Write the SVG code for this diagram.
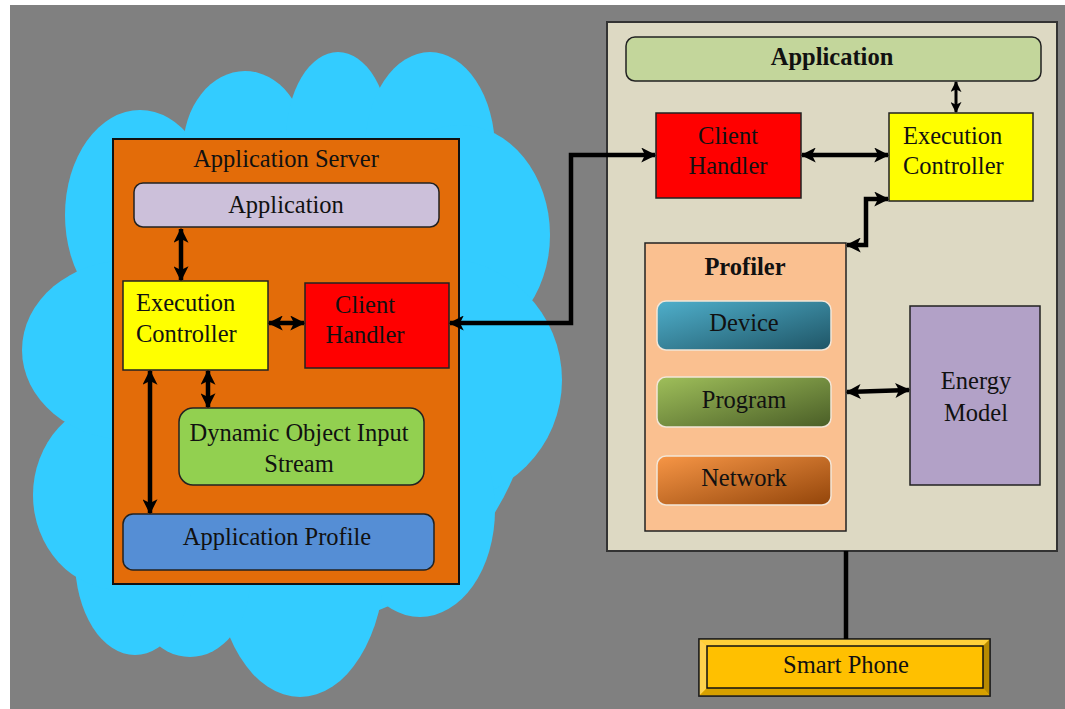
<svg xmlns="http://www.w3.org/2000/svg" width="1065" height="709" viewBox="0 0 1065 709">
<defs>
<style>
.t{font-family:"Liberation Serif","Times New Roman",serif;font-size:24.5px;fill:#111}
.b{font-weight:bold}
.m{text-anchor:middle}
.box{stroke:#222;stroke-width:1.5}
.cn{fill:none;stroke:#000;stroke-width:4.5;marker-start:url(#ah);marker-end:url(#ah)}
.cs{fill:none;stroke:#000;stroke-width:3;marker-start:url(#ahs);marker-end:url(#ahs)}
.btn{stroke:#f2e6d8;stroke-width:1.5}
</style>
<marker id="ah" viewBox="0 0 12 12" markerWidth="15" markerHeight="15" refX="11" refY="6" orient="auto-start-reverse" markerUnits="userSpaceOnUse">
<path d="M0,0 L12,6 L0,12 L3,6 z" fill="#000"/>
</marker>
<marker id="ahs" viewBox="0 0 12 12" markerWidth="11" markerHeight="11" refX="11" refY="6" orient="auto-start-reverse" markerUnits="userSpaceOnUse">
<path d="M0,0 L12,6 L0,12 L3,6 z" fill="#000"/>
</marker>
<linearGradient id="gDev" x1="0" y1="0" x2="1" y2="1">
<stop offset="0" stop-color="#4FAFCB"/><stop offset="1" stop-color="#1F5566"/>
</linearGradient>
<linearGradient id="gProg" x1="0" y1="0" x2="1" y2="1">
<stop offset="0" stop-color="#9FBF5A"/><stop offset="1" stop-color="#4A5E27"/>
</linearGradient>
<linearGradient id="gNet" x1="0" y1="0" x2="1" y2="1">
<stop offset="0" stop-color="#F79646"/><stop offset="1" stop-color="#93450A"/>
</linearGradient>
</defs>

<rect x="0" y="0" width="1065" height="709" fill="#ffffff"/>
<rect x="10" y="5" width="1055" height="704" fill="#808080"/>

<g id="cloud" fill="#33CCFF">
<ellipse cx="300" cy="370" rx="235" ry="255"/>
<ellipse cx="140" cy="215" rx="75" ry="105"/>
<ellipse cx="245" cy="150" rx="62" ry="79"/>
<ellipse cx="338" cy="140" rx="52" ry="88"/>
<ellipse cx="430" cy="150" rx="65" ry="98"/>
<ellipse cx="460" cy="235" rx="90" ry="110"/>
<ellipse cx="440" cy="380" rx="122" ry="122"/>
<ellipse cx="420" cy="510" rx="75" ry="107"/>
<ellipse cx="300" cy="560" rx="85" ry="137"/>
<ellipse cx="190" cy="580" rx="60" ry="77"/>
<ellipse cx="135" cy="560" rx="60" ry="95"/>
<ellipse cx="120" cy="495" rx="87" ry="95"/>
<ellipse cx="130" cy="350" rx="108" ry="90"/>
</g>

<g id="app-server">
<rect x="113" y="139" width="346" height="445" fill="#E36C09" stroke="#111" stroke-width="2"/>
<text class="t m" x="286" y="167">Application Server</text>
</g>
<g id="l-application">
<rect class="box" x="134" y="183" width="305" height="44" rx="9" fill="#CCC0DA"/>
<text class="t m" x="286" y="213">Application</text>
</g>
<g id="l-exec">
<rect class="box" x="123" y="281" width="145" height="89" fill="#FFFF00"/>
<text class="t" x="136" y="311">Execution</text>
<text class="t" x="136" y="342">Controller</text>
</g>
<g id="l-client">
<rect class="box" x="305" y="283" width="144" height="85" fill="#FF0000"/>
<text class="t m" x="365" y="313">Client</text>
<text class="t m" x="365" y="343">Handler</text>
</g>
<g id="l-dois">
<rect class="box" x="179" y="408" width="245" height="77" rx="14" fill="#92D050"/>
<text class="t m" x="299" y="441">Dynamic Object Input</text>
<text class="t m" x="299" y="472">Stream</text>
</g>
<g id="l-profile">
<rect class="box" x="123" y="514" width="311" height="56" rx="10" fill="#558ED5"/>
<text class="t m" x="277" y="545">Application Profile</text>
</g>

<g id="mobile">
<rect x="607" y="22" width="450" height="529" fill="#DDD9C3" stroke="#333" stroke-width="2"/>
</g>
<g id="r-application">
<rect class="box" x="626" y="37" width="415" height="44" rx="9" fill="#C3D69B" stroke="#555"/>
<text class="t b m" x="832" y="65">Application</text>
</g>
<g id="r-client">
<rect class="box" x="656" y="113" width="145" height="85" fill="#FF0000"/>
<text class="t m" x="728" y="144">Client</text>
<text class="t m" x="728" y="174">Handler</text>
</g>
<g id="r-exec">
<rect class="box" x="889" y="113" width="144" height="88" fill="#FFFF00"/>
<text class="t" x="903" y="144">Execution</text>
<text class="t" x="903" y="174">Controller</text>
</g>
<g id="profiler">
<rect class="box" x="645" y="243" width="201" height="288" fill="#FAC090"/>
<text class="t b m" x="745" y="275">Profiler</text>
</g>
<g id="device">
<rect class="btn" x="657" y="301" width="174" height="49" rx="9" fill="url(#gDev)"/>
<text class="t m" x="744" y="331">Device</text>
</g>
<g id="program">
<rect class="btn" x="657" y="377" width="174" height="50" rx="9" fill="url(#gProg)"/>
<text class="t m" x="744" y="408">Program</text>
</g>
<g id="network">
<rect class="btn" x="657" y="456" width="174" height="49" rx="9" fill="url(#gNet)"/>
<text class="t m" x="744" y="486">Network</text>
</g>
<g id="energy">
<rect class="box" x="910" y="306" width="130" height="179" fill="#B2A1C7"/>
<text class="t m" x="976" y="389">Energy</text>
<text class="t m" x="976" y="421">Model</text>
</g>
<g id="smartphone">
<rect x="699" y="639" width="291" height="57" fill="#FFC000" stroke="#222" stroke-width="1.5"/>
<polygon points="699,639 990,639 983,646 707,646" fill="#FFD03A"/>
<polygon points="699,639 707,646 707,688 699,696" fill="#FFD24D"/>
<polygon points="990,639 990,696 983,688 983,646" fill="#B88A00"/>
<polygon points="699,696 707,688 983,688 990,696" fill="#D6A000"/>
<rect x="707" y="646" width="276" height="42" fill="#FFC000" stroke="#111" stroke-width="1.5"/>
<rect x="699" y="639" width="291" height="57" fill="none" stroke="#222" stroke-width="1.5"/>
<text class="t m" x="846" y="673">Smart Phone</text>
</g>

<g id="connectors">
<line class="cn" x1="181" y1="229" x2="181" y2="280"/>
<line class="cn" x1="269" y1="323" x2="304" y2="323"/>
<line class="cn" x1="208" y1="371" x2="208" y2="407"/>
<line class="cn" x1="150" y1="371" x2="150" y2="513"/>
<polyline class="cn" points="450,323 571,323 571,155 655,155"/>
<line class="cn" x1="802" y1="155" x2="888" y2="155"/>
<line class="cs" x1="956" y1="82" x2="956" y2="112"/>
<polyline class="cn" points="847,245 866,245 866,199 888,199"/>
<line class="cn" x1="847" y1="392" x2="909" y2="390"/>
<line x1="846" y1="551" x2="846" y2="639" stroke="#000" stroke-width="4.5"/>
</g>
</svg>
